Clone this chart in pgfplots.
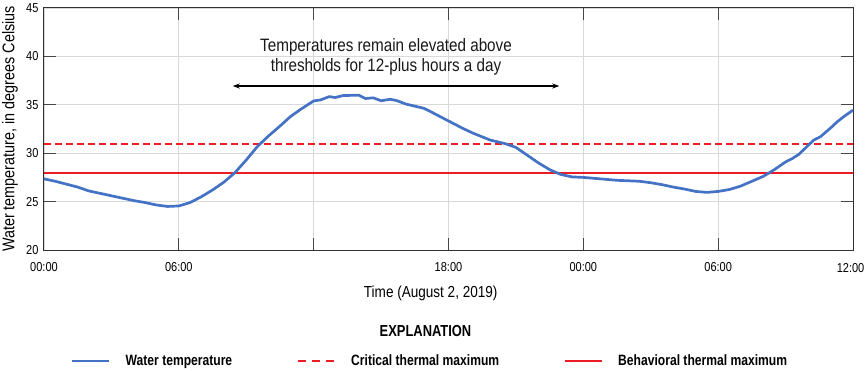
\documentclass[border=0pt]{standalone}
\usepackage{fontspec}
\setmainfont{Liberation Sans}[FakeStretch=0.85]
\newfontfamily\lgfont{Liberation Sans}[FakeStretch=0.81]
\usepackage{pgfplots}
\usepackage{pgfplotstable}
\pgfplotsset{compat=1.18}
\usetikzlibrary{arrows.meta}
\definecolor{wtblue}{RGB}{68,114,196}
\definecolor{thred}{RGB}{237,28,36}
\definecolor{gridgray}{RGB}{217,217,217}
\definecolor{tickgray}{RGB}{70,70,70}
\definecolor{framegray}{RGB}{50,50,50}

\pgfplotstableread{
h T
0 27.35
0.5 27.1
1 26.8
1.5 26.5
2 26.1
2.5 25.85
3 25.6
3.5 25.35
4 25.1
4.5 24.9
5 24.65
5.5 24.5
6 24.55
6.5 24.9
7 25.5
7.5 26.2
8 27.0
8.5 28.0
9 29.3
9.5 30.7
10 31.8
10.5 32.8
10.95 33.75
11.4 34.5
12.0 35.4
12.3 35.5
12.7 35.85
12.95 35.75
13.3 35.95
14.0 36.0
14.3 35.65
14.65 35.72
15.0 35.42
15.4 35.57
15.7 35.43
16.1 35.08
16.9 34.64
17.2 34.3
17.9 33.45
18.65 32.55
19.1 32.06
19.85 31.36
20.5 31.0
21.0 30.6
21.5 29.8
22.0 29.0
22.5 28.3
23.0 27.8
23.5 27.55
24.0 27.5
24.5 27.4
25 27.3
25.5 27.2
26 27.15
26.5 27.1
27 26.95
27.5 26.75
28 26.5
28.5 26.3
29 26.05
29.5 25.95
30 26.05
30.5 26.25
31 26.6
31.5 27.1
32 27.6
32.5 28.3
33 29.1
33.3 29.45
33.6 29.9
34 30.8
34.25 31.35
34.55 31.7
35 32.6
35.3 33.25
35.6 33.8
36 34.45
}\watertemp

\begin{document}
\begin{tikzpicture}
\useasboundingbox (0,0) rectangle (865bp,371bp);
\begin{axis}[
  at={(44bp,121bp)}, anchor=south west,
  scale only axis, width=809bp, height=242bp,
  xmin=0, xmax=36, ymin=20, ymax=45,
  xtick={0,6,12,18,24,30,36},
  xticklabels={00:00,06:00,,18:00,00:00,06:00,},
  ytick={20,25,30,35,40,45},
  tick pos=both, tick align=inside,
  major tick length=12bp,
  every tick/.style={tickgray, line width=1bp},
  axis line style={framegray, line width=1bp},
  grid=major,
  major grid style={gridgray, line width=0.9bp},
  /pgf/number format/assume math mode=true,
  tick label style={font=\fontsize{13}{15}\selectfont, text=black},
  xticklabel style={yshift=-9bp},
  yticklabel style={xshift=-2bp},
  xlabel={Time (August 2, 2019)},
  xlabel style={font=\fontsize{16}{18}\selectfont, at={(axis description cs:0.478,-0.149)}, anchor=north, inner sep=0pt},
  ylabel={Water temperature, in degrees Celsius},
  ylabel style={font=\fontsize{17}{19}\selectfont, at={(axis description cs:-0.0519,0.5)}, anchor=north, inner sep=0pt},
  legend columns=3,
  legend cell align=left,
  legend image code/.code={\draw[#1] (0bp,0bp) -- (37bp,0bp);},
  legend style={draw=none, fill=none, inner sep=0pt, outer sep=0pt,
    at={(axis description cs:0.0334,-0.4587)}, anchor=west,
    nodes={inner sep=0pt, font=\lgfont\bfseries\fontsize{15}{17}\selectfont},
    /tikz/every odd column/.append style={column sep=15bp},
    /tikz/every even column/.append style={column sep=65bp}},
]
\addlegendimage{wtblue, line width=2.7bp}
\addlegendentry{Water temperature}
\addlegendimage{thred, line width=2bp, dash pattern=on 8bp off 6bp}
\addlegendentry{Critical thermal maximum}
\addlegendimage{thred, line width=2bp}
\addlegendentry{Behavioral thermal maximum}

\addplot[forget plot, thred, line width=2bp, dash pattern=on 7bp off 4bp] coordinates {(0,31) (36,31)};
\addplot[forget plot, thred, line width=2bp] coordinates {(0,28) (36,28)};
\addplot[forget plot, wtblue, line width=2.7bp, line join=round] table[x=h, y=T] {\watertemp};

\draw[{Stealth[length=7bp,width=5bp]}-{Stealth[length=7bp,width=5bp]}, line width=1.2bp, black]
  (axis cs:8.4,36.94) -- (axis cs:22.93,36.94);
\node[anchor=north, align=center, inner sep=0pt, text=black!90,
  font=\fontsize{18}{20.7}\selectfont] at (axis cs:15.22,41.9)
  {Temperatures remain elevated above\\thresholds for 12-plus hours a day};
\end{axis}
\node[anchor=north east, inner sep=0pt, font=\fontsize{13}{15}\selectfont] at (864.5bp,108bp) {12:00};
\node[anchor=center, inner sep=0pt, font=\lgfont\bfseries\fontsize{16}{18}\selectfont]
  at (425.5bp,39.5bp) {EXPLANATION};
\end{tikzpicture}
\end{document}
